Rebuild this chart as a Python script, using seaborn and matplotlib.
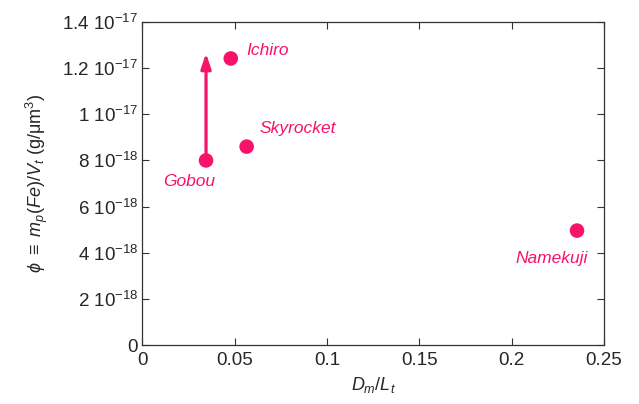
import matplotlib
matplotlib.use("Agg")
import matplotlib.pyplot as plt
import seaborn as sns
import pandas as pd

names = ["Gobou", "Ichiro", "Skyrocket", "Namekuji"]
x_vals = [0.0345, 0.0479, 0.0565, 0.2354]
y_vals = [8.0e-18, 12.42e-18, 8.6e-18, 4.96e-18]
label_dx = [-0.0233, 0.0086, 0.0067, -0.0331]
label_dy = [-0.91e-18, 0.33e-18, 0.79e-18, -1.23e-18]

arrow_x = 0.0345
arrow_y_start = 8.0e-18
arrow_y_end = 12.65e-18

x_ticks = [0, 0.05, 0.1, 0.15, 0.2, 0.25]
x_tick_labels = ["0", "0.05", "0.1", "0.15", "0.2", "0.25"]
y_ticks = [0, 2e-18, 4e-18, 6e-18, 8e-18, 1e-17, 1.2e-17, 1.4e-17]
y_tick_labels = ["0", r"2 10$^{-18}$", r"4 10$^{-18}$", r"6 10$^{-18}$", r"8 10$^{-18}$",
                 r"1 10$^{-17}$", r"1.2 10$^{-17}$", r"1.4 10$^{-17}$"]

color = "#F7126A"

sns.set_style("ticks")
plt.rcParams["font.family"] = ["Liberation Sans", "DejaVu Sans"]
plt.rcParams["mathtext.fontset"] = "custom"
plt.rcParams["mathtext.rm"] = "Liberation Sans"
plt.rcParams["mathtext.it"] = "Liberation Sans:italic"

df = pd.DataFrame({"x": x_vals, "y": y_vals, "name": names})

fig = plt.figure(figsize=(6.39, 4.04), dpi=100)
ax = fig.add_axes([0.2227, 0.146, 0.9452 - 0.2227, 0.9455 - 0.146])

ax.annotate("", xy=(arrow_x, arrow_y_end), xytext=(arrow_x, arrow_y_start),
            arrowprops=dict(arrowstyle="-|>,head_length=0.9,head_width=0.3",
                            color=color, lw=2.3, shrinkA=0, shrinkB=0))

sns.scatterplot(data=df, x="x", y="y", ax=ax, color=color, s=110,
                edgecolor="none", zorder=3, legend=False)

for n, xv, yv, dx, dy in zip(names, x_vals, y_vals, label_dx, label_dy):
    ax.text(xv + dx, yv + dy, n, color=color, fontsize=12.5, style="italic",
            ha="left", va="center")

ax.set_xlim(0, 0.25)
ax.set_ylim(0, 1.4e-17)
ax.set_xticks(x_ticks)
ax.set_xticklabels(x_tick_labels)
ax.set_yticks(y_ticks)
ax.set_yticklabels(y_tick_labels)
ax.tick_params(direction="in", top=True, right=True, labelsize=13.5,
               length=5, width=0.8, color="#333333")
ax.tick_params(axis="x", pad=5)
ax.tick_params(axis="y", pad=3)
for s in ax.spines.values():
    s.set_linewidth(0.9)
    s.set_color("#333333")

ax.set_xlabel(r"$D_m/L_t$", fontsize=13, labelpad=4)
ax.set_ylabel(r"$\phi$ $\equiv$ $m_p$$(Fe)/V_t$ (g/$\mathrm{\mu}$m$^3$)",
              fontsize=13, labelpad=9)

fig.savefig("out.png", dpi=100)
